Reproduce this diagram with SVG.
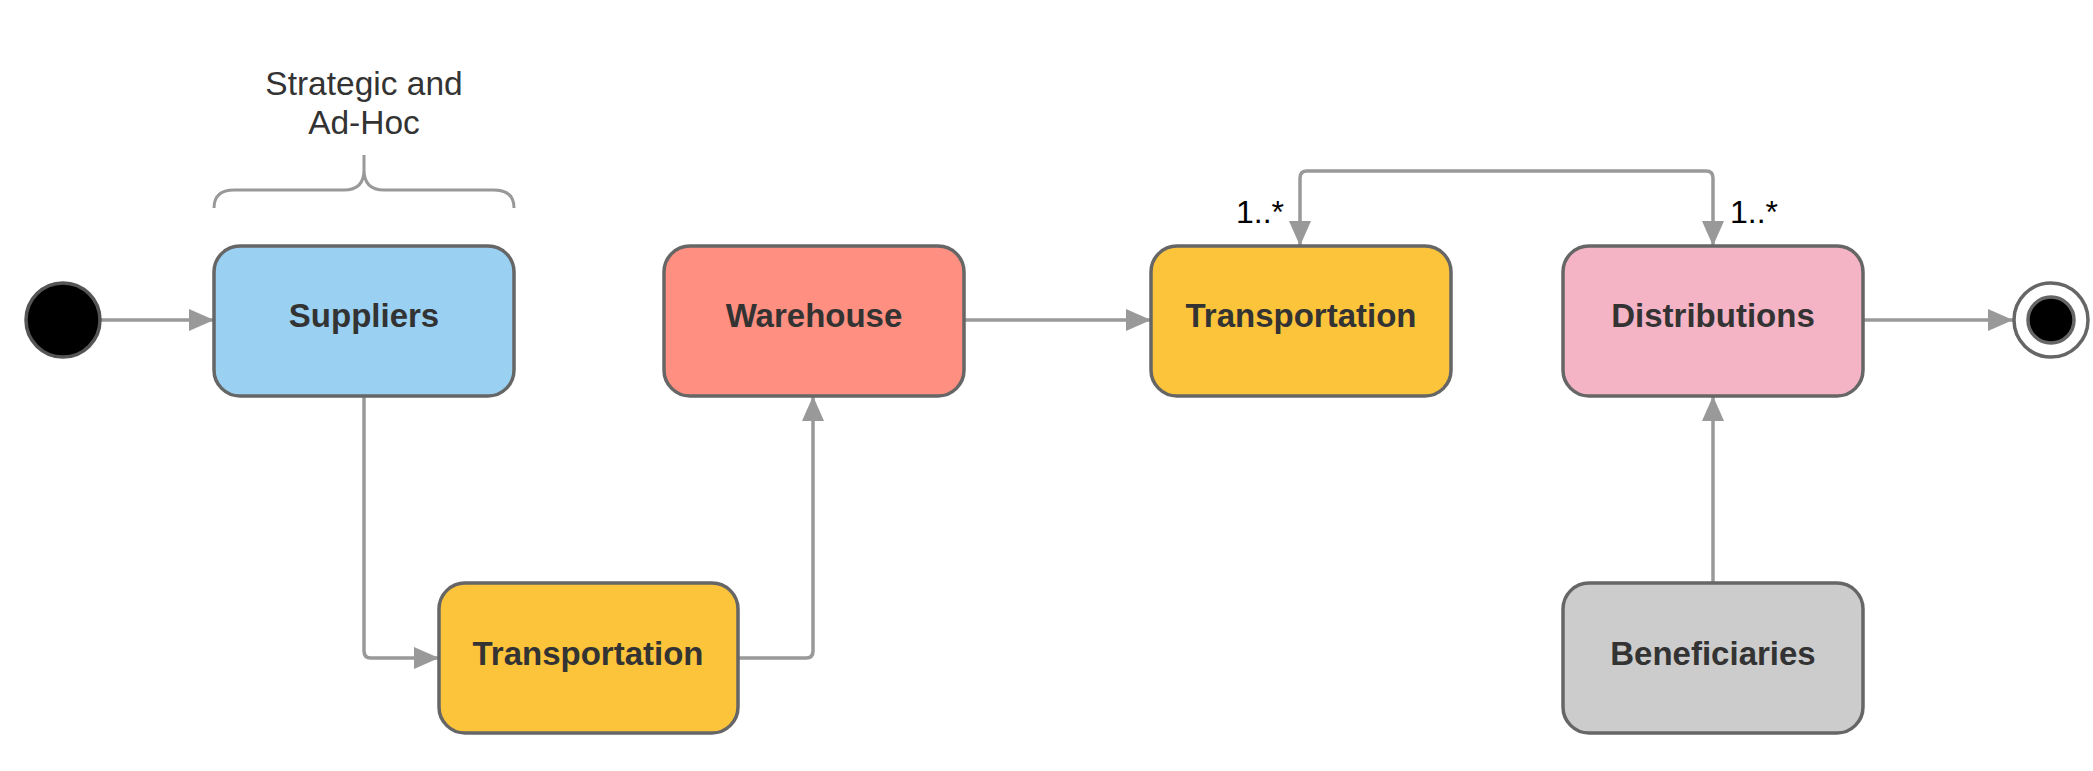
<svg xmlns="http://www.w3.org/2000/svg" width="2093" height="771" viewBox="0 0 2093 771">
<style>
.box{stroke:#666;stroke-width:3.5}
.lbl{font-family:"Liberation Sans",Arial,sans-serif;font-weight:bold;font-size:33px;fill:#333;text-anchor:middle}
.note{font-family:"Liberation Sans",Arial,sans-serif;font-size:33.5px;fill:#333;text-anchor:middle}
.mult{font-family:"Liberation Sans",Arial,sans-serif;font-size:32px;fill:#000}
.edge{fill:none;stroke:#999;stroke-width:3.5}
</style>
<defs>
<marker id="arr" markerUnits="userSpaceOnUse" markerWidth="26" markerHeight="24" refX="25" refY="11" orient="auto-start-reverse">
<path d="M0,0 L25,11 L0,22 z" fill="#999"/>
</marker>
</defs>
<rect width="2093" height="771" fill="#fff"/>
<g id="connectors">
<path class="edge" d="M100,320 H214" marker-end="url(#arr)"/>
<path class="edge" d="M364,396 V651 Q364,658 371,658 H439" marker-end="url(#arr)"/>
<path class="edge" d="M738,658 H806 Q813,658 813,651 V396" marker-end="url(#arr)"/>
<path class="edge" d="M964,320 H1151" marker-end="url(#arr)"/>
<path class="edge" d="M1300,246 V178 Q1300,171 1307,171 H1706 Q1713,171 1713,178 V246" marker-start="url(#arr)" marker-end="url(#arr)"/>
<path class="edge" d="M1863,320 H2013" marker-end="url(#arr)"/>
<path class="edge" d="M1713,583 V396" marker-end="url(#arr)"/>
</g>
<g id="brace">
<path d="M214,208 Q214,190 234,190 H344 Q364,190 364,170 Q364,190 384,190 H494 Q514,190 514,208 M364,170 V155" fill="none" stroke="#999" stroke-width="3"/>
<text class="note" x="364" y="95">Strategic and</text>
<text class="note" x="364" y="134">Ad-Hoc</text>
</g>
<g id="start">
<circle cx="63" cy="320" r="37" fill="#000" stroke="#555" stroke-width="3.5"/>
</g>
<g id="suppliers">
<rect class="box" x="214" y="246" width="300" height="150" rx="26" fill="#9AD1F2"/>
<text class="lbl" x="364" y="327">Suppliers</text>
</g>
<g id="warehouse">
<rect class="box" x="664" y="246" width="300" height="150" rx="26" fill="#FF8F80"/>
<text class="lbl" x="814" y="327">Warehouse</text>
</g>
<g id="transportation1">
<rect class="box" x="439" y="583" width="299" height="150" rx="26" fill="#FCC43A"/>
<text class="lbl" x="588" y="665">Transportation</text>
</g>
<g id="transportation2">
<rect class="box" x="1151" y="246" width="300" height="150" rx="26" fill="#FCC43A"/>
<text class="lbl" x="1301" y="327">Transportation</text>
<text class="mult" x="1236" y="223">1..*</text>
</g>
<g id="distributions">
<rect class="box" x="1563" y="246" width="300" height="150" rx="26" fill="#F4B4C6"/>
<text class="lbl" x="1713" y="327">Distributions</text>
<text class="mult" x="1730" y="223">1..*</text>
</g>
<g id="beneficiaries">
<rect class="box" x="1563" y="583" width="300" height="150" rx="26" fill="#CCCCCC"/>
<text class="lbl" x="1713" y="665">Beneficiaries</text>
</g>
<g id="end">
<circle cx="2051" cy="320" r="37" fill="#fff" stroke="#666" stroke-width="3.5"/>
<circle cx="2051" cy="320" r="23" fill="#000" stroke="#666" stroke-width="3.5"/>
</g>
</svg>
